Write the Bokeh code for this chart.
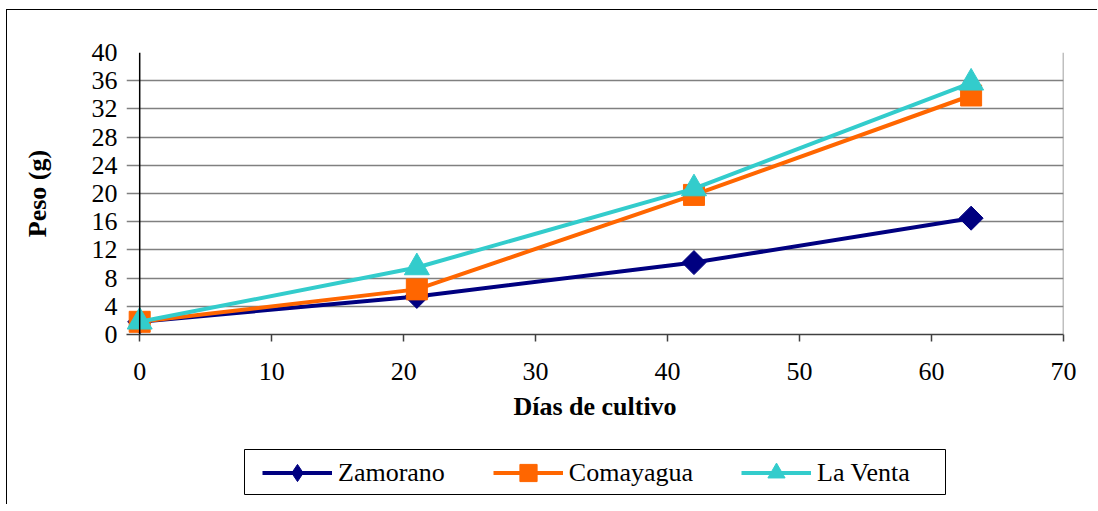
from bokeh.plotting import figure
from bokeh.models import Range1d, FixedTicker, Span, Legend, LegendItem
from bokeh.embed import file_html
from bokeh.resources import INLINE
import math

days = [0, 21, 42, 63]
zamorano = [1.8, 5.4, 10.2, 16.5]
comayagua = [1.8, 6.4, 19.8, 33.9]
la_venta = [1.8, 9.5, 20.7, 35.7]
x_ticks = [0, 10, 20, 30, 40, 50, 60, 70]
y_ticks = [0, 4, 8, 12, 16, 20, 24, 28, 32, 36, 40]

FONT = "Liberation Serif"

p = figure(frame_width=937, frame_height=282, output_backend="svg", toolbar_location=None,
           x_range=Range1d(-1, 70), y_range=Range1d(0, 40),
           min_border_left=119, min_border_right=34, min_border_top=42, min_border_bottom=100)
p.styles = {"margin-left": "6px", "margin-top": "9px",
            "border-left": "1px solid black", "border-top": "1px solid black"}
p.outline_line_color = None
p.background_fill_color = "white"
p.border_fill_color = "white"

# grid
p.xgrid.grid_line_color = None
p.ygrid.grid_line_color = "#808080"
p.ygrid.grid_line_width = 1.5
p.ygrid.ticker = FixedTicker(ticks=y_ticks)

# axes
p.xaxis.ticker = FixedTicker(ticks=x_ticks)
p.yaxis.ticker = FixedTicker(ticks=y_ticks)
for ax in (p.xaxis, p.yaxis):
    ax.major_label_text_font = FONT
    ax.major_label_text_font_size = "26px"
    ax.major_label_text_color = "black"
    ax.axis_label_text_font = FONT
    ax.axis_label_text_font_size = "26px"
    ax.axis_label_text_font_style = "bold"
    ax.axis_label_text_color = "black"
    ax.minor_tick_line_color = None

p.xaxis.axis_label = "Días de cultivo"
p.xaxis.axis_line_color = "#404040"
p.xaxis.axis_line_width = 1.5
p.xaxis.major_tick_line_color = "#404040"
p.xaxis.major_tick_line_width = 1.5
p.xaxis.major_tick_out = 7
p.xaxis.major_tick_in = 0
p.xaxis.major_label_standoff = 21
p.xaxis.axis_label_standoff = 9

p.yaxis.axis_label = "Peso (g)"
p.yaxis.axis_line_color = None
p.yaxis.major_tick_line_color = None
p.yaxis.major_tick_out = 0
p.yaxis.major_tick_in = 0
p.yaxis.major_label_standoff = 9
p.yaxis.axis_label_standoff = 37

# y axis line at x=0 and right frame edge
p.add_layout(Span(location=0, dimension="height", line_color="black", line_width=1.5))
p.add_layout(Span(location=70, dimension="height", line_color="#808080", line_width=1.5))

# name, values, colour, chart marker, size, angle, legend marker
series = [
    ("Zamorano", zamorano, "#000080", "square", 17, math.pi / 4, "diamond"),
    ("Comayagua", comayagua, "#FF6600", "square", 21, 0, "square"),
    ("La Venta", la_venta, "#33CCCC", "triangle", 25, 0, "triangle"),
]

# legend strip: a second root whose frame is the legend box
# (its ranges keep its own copies of the series out of view; only the legend shows)
p2 = figure(frame_width=701, frame_height=45, output_backend="svg", toolbar_location=None,
            x_range=Range1d(100, 101), y_range=Range1d(100, 101),
            x_axis_type=None, y_axis_type=None,
            min_border_left=237, min_border_right=152, min_border_top=15, min_border_bottom=10)
p2.styles = {"margin-left": "6px", "border-left": "1px solid black"}
p2.outline_line_color = "black"
p2.outline_line_width = 1
p2.background_fill_color = "white"
p2.border_fill_color = "white"

items = []
for name, vals, color, marker, size, ang, leg_marker in series:
    p.line(days, vals, line_color=color, line_width=4)
    p.scatter(days, vals, marker=marker, size=size, angle=ang,
              fill_color=color, line_color=color)
    ll = p2.line(days, vals, line_color=color, line_width=4)
    ls = p2.scatter(days, vals, marker=leg_marker, size=size,
                    fill_color=color, line_color=color)
    items.append(LegendItem(label=name, renderers=[ll, ls]))

legend = Legend(items=items, orientation="horizontal", location=(18, 0),
                glyph_width=70, glyph_height=43, label_standoff=6, spacing=48,
                padding=1, margin=0, label_text_font=FONT, label_text_font_size="26px",
                label_text_color="black", border_line_color=None,
                background_fill_alpha=0.0)
p2.add_layout(legend, "center")

open("out.html", "w").write(file_html([p, p2], INLINE))
